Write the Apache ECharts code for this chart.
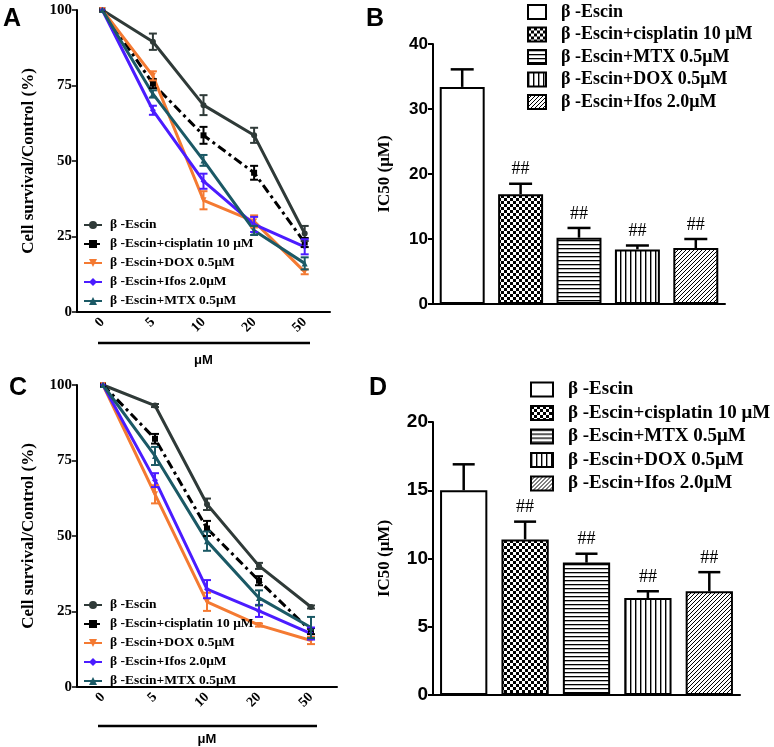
<!DOCTYPE html>
<html><head><meta charset="utf-8">
<script src="https://cdn.jsdelivr.net/npm/echarts@6/dist/echarts.min.js"></script>
<style>html,body{margin:0;padding:0;background:#fff}#c{width:774px;height:747px}</style>
</head><body><div id="c"></div>
<script>
// ---------- data ----------
const doses = ['0', '5', '10', '20', '50'];
const lineNames = ['β -Escin', 'β -Escin+cisplatin 10 μM', 'β -Escin+DOX 0.5μM', 'β -Escin+Ifos 2.0μM', 'β -Escin+MTX 0.5μM'];
// Panel A
const escinA = [100, 89.5, 68.5, 58.5, 26];
const cisA   = [100, 75.6, 58.5, 46.1, 23];
const doxA   = [100, 78.2, 37, 30, 13.3];
const ifosA  = [100, 66.8, 43.3, 29, 21.6];
const mtxA   = [100, 72.2, 50.2, 27, 16.1];
const errEscinA = [0, 2.7, 3.3, 2.5, 2.5];
const errCisA   = [0, 1.5, 2.8, 2.3, 1.5];
const errDoxA   = [0, 1.5, 3, 2, 0.8];
const errIfosA  = [0, 1.5, 2.5, 2.5, 2.5];
const errMtxA   = [0, 1.2, 1.8, 1.5, 2];
// Panel C
const escinC = [100, 93.2, 60.5, 40.1, 26.5];
const cisC   = [100, 82.2, 52.5, 35.2, 18.5];
const doxC   = [100, 63.8, 28.2, 20.5, 15.4];
const ifosC  = [100, 68.5, 32.4, 25.2, 17.7];
const mtxC   = [100, 76.5, 48.3, 29.5, 19.7];
const errEscinC = [0, 0.5, 1.9, 1, 0.5];
const errCisC   = [0, 1.6, 2.5, 1.5, 1];
const errDoxC   = [0, 3, 3, 0.5, 1.2];
const errIfosC  = [0, 2.3, 3, 2, 2];
const errMtxC   = [0, 3, 3.2, 2.5, 3.5];
// Panels B and D
const barNames = ['β -Escin', 'β -Escin+cisplatin 10 μM', 'β -Escin+MTX 0.5μM', 'β -Escin+DOX 0.5μM', 'β -Escin+Ifos 2.0μM'];
const ic50B = [33.4, 16.9, 10.2, 8.4, 8.6];
const errB  = [2.7, 1.6, 1.5, 0.6, 1.4];
const ic50D = [15.0, 11.4, 9.7, 7.1, 7.6];
const errD  = [1.9, 1.3, 0.65, 0.5, 1.4];
const sigMarks = ['', '##', '##', '##', '##'];

// ---------- styles ----------
const SERIF = 'Liberation Serif';
const SANS = 'Liberation Sans';
const lineColors = ['#2f3a38', '#000000', '#f47a32', '#4b1cff', '#1b5965'];
const lineTypes = ['solid', [9, 4, 3, 4], 'solid', 'solid', 'solid'];
const symbols = ['circle', 'rect', 'triangle', 'diamond', 'triangle'];
const symRot = [0, 0, 180, 0, 0];

function pat(w, h, draw) {
  const c = document.createElement('canvas');
  c.width = w; c.height = h;
  const ctx = c.getContext('2d');
  ctx.fillStyle = '#fff'; ctx.fillRect(0, 0, w, h);
  ctx.fillStyle = '#000'; ctx.strokeStyle = '#000';
  draw(ctx);
  return { image: c, repeat: 'repeat' };
}
const fills = [
  '#ffffff',
  pat(6, 6, ctx => { ctx.fillRect(0, 0, 3, 3); ctx.fillRect(3, 3, 3, 3); }),
  pat(4, 4, ctx => { ctx.fillRect(0, 0, 4, 1.3); }),
  pat(5, 5, ctx => { ctx.fillRect(0, 0, 1.4, 5); }),
  pat(4, 4, ctx => { for (let i = 0; i < 4; i++) ctx.fillRect(i, 3 - i, 1, 1); })
];

const chart = echarts.init(document.getElementById('c'), null, { renderer: 'canvas' });

const grids = [
  { left: 77, top: 10, width: 253, height: 302 },
  { left: 433, top: 44, width: 292, height: 260 },
  { left: 77, top: 385, width: 260, height: 309 },
  { left: 433, top: 422, width: 307, height: 273 }
];

function lineX(gi, nameGap) {
  return {
    type: 'category', gridIndex: gi, data: doses, boundaryGap: true,
    axisLine: { lineStyle: { color: '#000', width: 2 } },
    axisTick: { alignWithLabel: true, length: 5, lineStyle: { color: '#000', width: 1.5 } },
    axisLabel: { rotate: 45, color: '#000', fontFamily: SERIF, fontWeight: 'bold', fontSize: 14, margin: 8 },
    name: 'μM', nameLocation: 'middle', nameGap: nameGap,
    nameTextStyle: { color: '#000', fontFamily: SANS, fontWeight: 'bold', fontSize: 13 }
  };
}
function barX(gi) {
  return {
    type: 'category', gridIndex: gi, data: barNames, boundaryGap: true,
    axisLine: { lineStyle: { color: '#000', width: 2 } },
    axisTick: { alignWithLabel: true, length: 7, lineStyle: { color: '#000', width: 2 } },
    axisLabel: { show: false }
  };
}
function lineY(gi) {
  return {
    type: 'value', gridIndex: gi, min: 0, max: 100, interval: 25,
    splitLine: { show: false },
    axisLine: { show: true, lineStyle: { color: '#000', width: 2 } },
    axisTick: { show: true, length: 5, lineStyle: { color: '#000', width: 1.5 } },
    axisLabel: { color: '#000', fontFamily: SERIF, fontWeight: 'bold', fontSize: 15, margin: 5 },
    name: 'Cell survival/Control (%)', nameLocation: 'middle', nameGap: 40,
    nameTextStyle: { color: '#000', fontFamily: SERIF, fontWeight: 'bold', fontSize: 17 }
  };
}
function barY(gi, max, interval, fs) {
  return {
    type: 'value', gridIndex: gi, min: 0, max: max, interval: interval,
    splitLine: { show: false },
    axisLine: { show: true, lineStyle: { color: '#000', width: 2 } },
    axisTick: { show: true, length: 5, lineStyle: { color: '#000', width: 2 } },
    axisLabel: { color: '#000', fontFamily: SANS, fontWeight: 'bold', fontSize: fs, margin: 5 },
    name: 'IC50 (μM)', nameLocation: 'middle', nameGap: 40,
    nameTextStyle: { color: '#000', fontFamily: SERIF, fontWeight: 'bold', fontSize: 17 }
  };
}

function errSeries(gi, vals, errs, color, capHalf, lw) {
  return {
    type: 'custom', xAxisIndex: gi, yAxisIndex: gi, z: 5, silent: true,
    data: vals.map((v, i) => [i, v, errs[i]]),
    renderItem: function (params, api) {
      const x = api.value(0), v = api.value(1), e = api.value(2);
      if (!e) return null;
      const t = api.coord([x, v + e]), b = api.coord([x, v - e]);
      const st = { stroke: color, lineWidth: lw };
      return { type: 'group', children: [
        { type: 'line', shape: { x1: t[0], y1: t[1], x2: b[0], y2: b[1] }, style: st },
        { type: 'line', shape: { x1: t[0] - capHalf, y1: t[1], x2: t[0] + capHalf, y2: t[1] }, style: st },
        { type: 'line', shape: { x1: b[0] - capHalf, y1: b[1], x2: b[0] + capHalf, y2: b[1] }, style: st }
      ] };
    }
  };
}
function barErrSeries(gi, vals, errs, capHalf) {
  return {
    type: 'custom', xAxisIndex: gi, yAxisIndex: gi, z: 5, silent: true,
    data: vals.map((v, i) => [i, v, errs[i]]),
    renderItem: function (params, api) {
      const i = api.value(0), v = api.value(1), e = api.value(2);
      const t = api.coord([i, v + e]), b = api.coord([i, v]);
      const st = { stroke: '#000', lineWidth: 2.5 };
      const ch = [
        { type: 'line', shape: { x1: t[0], y1: t[1], x2: b[0], y2: b[1] }, style: st },
        { type: 'line', shape: { x1: t[0] - capHalf, y1: t[1], x2: t[0] + capHalf, y2: t[1] }, style: st }
      ];
      if (sigMarks[i]) ch.push({ type: 'text', x: t[0], y: t[1] - 14,
        style: { text: sigMarks[i], fill: '#000', align: 'center', verticalAlign: 'middle', fontSize: 18, fontFamily: SERIF } });
      return { type: 'group', children: ch };
    }
  };
}

const series = [];
const A = [escinA, cisA, doxA, ifosA, mtxA], eA = [errEscinA, errCisA, errDoxA, errIfosA, errMtxA];
const C = [escinC, cisC, doxC, ifosC, mtxC], eC = [errEscinC, errCisC, errDoxC, errIfosC, errMtxC];
function addLines(prefix, gi, vals, errs) {
  vals.forEach((arr, k) => {
    series.push({
      type: 'line', name: prefix + '|' + lineNames[k], xAxisIndex: gi, yAxisIndex: gi, data: arr,
      symbol: symbols[k], symbolRotate: symRot[k], symbolSize: 6,
      lineStyle: { color: lineColors[k], width: 3, type: lineTypes[k] },
      itemStyle: { color: lineColors[k] }, z: 3
    });
    series.push(errSeries(gi, arr, errs[k], lineColors[k], 4, 2));
  });
}
addLines('A', 0, A, eA);
addLines('C', 2, C, eC);
function addBars(prefix, gi, vals, errs, capHalf) {
  vals.forEach((v, i) => {
    series.push({
      type: 'bar', name: prefix + '|' + barNames[i], xAxisIndex: gi, yAxisIndex: gi,
      data: vals.map((w, j) => j === i ? w : '-'), barWidth: '77%', barGap: '-100%',
      itemStyle: { color: fills[i], borderColor: '#000', borderWidth: 2 }
    });
  });
  series.push(barErrSeries(gi, vals, errs, capHalf));
}
addBars('B', 1, ic50B, errB, 11.5);
addBars('D', 3, ic50D, errD, 11);

const fmt = n => n.split('|')[1];
function lineLegend(prefix, top) {
  return {
    orient: 'vertical', left: 83, top: top, padding: 0, itemWidth: 18, itemHeight: 10, itemGap: 5,
    data: lineNames.map(n => prefix + '|' + n), formatter: fmt, selectedMode: false,
    textStyle: { color: '#000', fontFamily: SERIF, fontWeight: 'bold', fontSize: 13.5, lineHeight: 14, padding: [0, 0, 0, 3] }
  };
}
function barLegend(prefix, left, top, iw, ih, fs, gap) {
  return {
    orient: 'vertical', left: left, top: top, padding: 0, itemWidth: iw, itemHeight: ih, itemGap: gap, icon: 'rect',
    data: barNames.map(n => prefix + '|' + n), formatter: fmt, selectedMode: false,
    textStyle: { color: '#000', fontFamily: SERIF, fontWeight: 'bold', fontSize: fs, lineHeight: fs, padding: [0, 0, 0, 10] }
  };
}

chart.setOption({
  animation: false,
  grid: grids,
  xAxis: [lineX(0, 42), barX(1), lineX(2, 46), barX(3)],
  yAxis: [lineY(0), barY(1, 40, 10, 17), lineY(2), barY(3, 20, 5, 19)],
  legend: [
    lineLegend('A', 218),
    barLegend('B', 527, 3, 18, 14, 18, 4.5),
    lineLegend('C', 598),
    barLegend('D', 530, 380, 22, 14, 19, 4.5)
  ],
  series: series,
  graphic: [
    { type: 'text', left: 3, top: 7, style: { text: 'A', font: 'bold 25px "Liberation Sans"', fill: '#000' } },
    { type: 'text', left: 366, top: 7, style: { text: 'B', font: 'bold 25px "Liberation Sans"', fill: '#000' } },
    { type: 'text', left: 9, top: 376, style: { text: 'C', font: 'bold 25px "Liberation Sans"', fill: '#000' } },
    { type: 'text', left: 369, top: 376, style: { text: 'D', font: 'bold 25px "Liberation Sans"', fill: '#000' } },
    { type: 'line', shape: { x1: 98, y1: 343, x2: 310, y2: 343 }, style: { stroke: '#000', lineWidth: 2.5 } },
    { type: 'line', shape: { x1: 98, y1: 726, x2: 317, y2: 726 }, style: { stroke: '#000', lineWidth: 2.5 } }
  ]
});
</script></body></html>
